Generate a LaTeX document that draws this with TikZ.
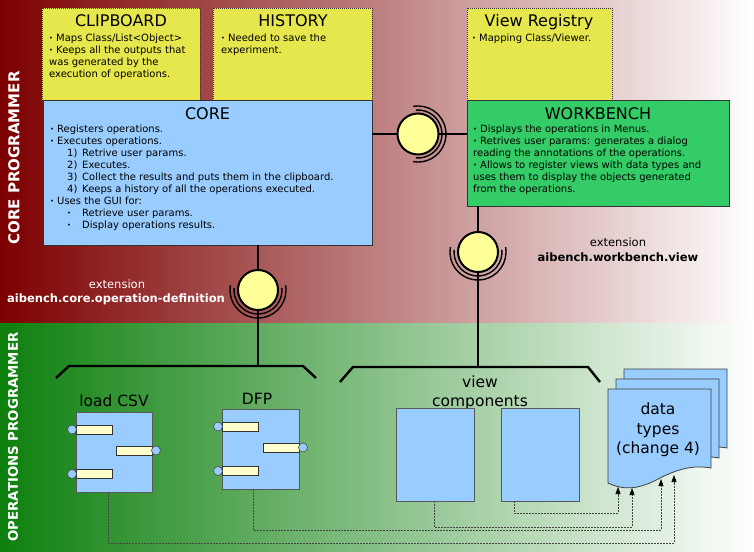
\documentclass[tikz,border=0pt]{standalone}
\usepackage{fontspec}
\setmainfont{DejaVu Sans}
\usetikzlibrary{arrows.meta,calc}
\definecolor{topred}{HTML}{7C0000}
\definecolor{botgreen}{HTML}{0E800E}
\definecolor{ybox}{HTML}{E6E64D}
\definecolor{lblue}{HTML}{99CCFF}
\definecolor{wgreen}{HTML}{33CC66}
\definecolor{sockfill}{HTML}{FFFF99}
\definecolor{portfill}{HTML}{FFFFCC}
\definecolor{dashgray}{HTML}{444444}
\newcommand\mybul{\makebox[7pt][l]{\raisebox{0.9pt}{\fontsize{6.5}{6.5}\selectfont •}}}
\newcommand\mysubbul{\raisebox{0.9pt}{\fontsize{6.5}{6.5}\selectfont •}}
\newcommand\opports[1]{%
  \draw[portr] ([shift={(0,13)}]#1.north west) rectangle ++(36,9);
  \draw[portc] ([shift={(-4,17.5)}]#1.north west) circle[radius=4.5];
  \draw[portr] ([shift={(-36,34)}]#1.north east) rectangle ++(36,9);
  \draw[portc] ([shift={(4,38.5)}]#1.north east) circle[radius=4.5];
  \draw[portr] ([shift={(0,57.5)}]#1.north west) rectangle ++(36,9);
  \draw[portc] ([shift={(-4,62)}]#1.north west) circle[radius=4.5];}
\newcommand\docpath{(608,389) -- (711,389) -- (711,468) .. controls (695,465) and (680,468) .. (660,478) .. controls (640,489) and (625,491) .. (608,483) -- cycle}
\begin{document}
\begin{tikzpicture}[x=1pt,y=-1pt,
  ybox/.style={fill=ybox,draw=black!80,line width=0.7pt,dash pattern=on 1pt off 1pt,anchor=north west,outer sep=0pt,inner sep=0pt},
  corebox/.style={fill=lblue,draw=black!80,line width=0.8pt,anchor=north west,outer sep=0pt,inner sep=0pt},
  wbbox/.style={fill=wgreen,draw=black!80,line width=0.8pt,anchor=north west,outer sep=0pt,inner sep=0pt},
  compbox/.style={fill=lblue,draw=black!65,line width=0.8pt,anchor=north west,outer sep=0pt,inner sep=0pt},
  boxtitle/.style={anchor=base,inner sep=0pt,font=\fontsize{16}{19}\selectfont},
  boxbody/.style={anchor=north west,align=left,inner sep=0pt,font=\fontsize{10}{12.05}\selectfont},
  comptxt/.style={inner sep=0pt,font=\fontsize{15.5}{19.5}\selectfont},
  conn/.style={line width=2.4pt,black},
  sock/.style={circle,fill=sockfill,draw=black,line width=2pt,minimum size=40pt,inner sep=0pt,outer sep=0pt},
  sockarc/.style={line width=1.4pt,black},
  portr/.style={fill=portfill,draw=black!80,line width=0.6pt},
  portc/.style={fill=lblue,draw=black!70,line width=0.6pt},
  docsty/.style={fill=lblue,draw=black!75,line width=0.8pt},
  dasharr/.style={draw=dashgray,line width=0.6pt,dash pattern=on 2pt off 1pt,-{Triangle[length=7pt,width=5pt,black]}},
  sidelbl/.style={text=white,inner sep=0pt,rotate=90}
]
\useasboundingbox (0,0) rectangle (754,551);
% background bands
\shade[left color=topred,right color=white] (0,0) rectangle (754,323);
\shade[left color=botgreen,right color=white] (0,323) rectangle (754,551);
% side labels
\node[sidelbl,font=\bfseries\fontsize{15}{15}\selectfont] (lblcore) at (14,158) {CORE PROGRAMMER};
\node[sidelbl,font=\bfseries\fontsize{13.3}{13.3}\selectfont] (lblops) at (13,437) {OPERATIONS PROGRAMMER};
% top boxes
\node[ybox,minimum width=158pt,minimum height=92pt] (clip) at (42,8) {};
\node[ybox,minimum width=159pt,minimum height=92pt] (hist) at (213,8) {};
\node[ybox,minimum width=145pt,minimum height=92pt] (vreg) at (467,8) {};
\node[corebox,minimum width=329pt,minimum height=145pt] (core) at (43,100) {};
\node[wbbox,minimum width=262pt,minimum height=106pt] (wb) at (467,100) {};
% titles
\node[boxtitle] (clipT) at (121,27) {CLIPBOARD};
\node[boxtitle] (histT) at (293,27) {HISTORY};
\node[boxtitle] (vregT) at (539,27) {View Registry};
\node[boxtitle] (coreT) at (207.5,119) {CORE};
\node[boxtitle] (wbT) at (598,119) {WORKBENCH};
% bodies
\node[boxbody] (clipB) at (49,33.5) {\mybul Maps Class/List<Object>\\\mybul Keeps all the outputs that\\was generated by the\\execution of operations.};
\node[boxbody] (histB) at (221,33.5) {\mybul Needed to save the\\experiment.};
\node[boxbody] (vregB) at (472,33.5) {\mybul Mapping Class/Viewer.};
\node[boxbody] (coreB) at (50,124.5) {\mybul Registers operations.\\
\mybul Executes operations.\\
\hspace*{17pt}\makebox[15pt][l]{1)}Retrive user params.\\
\hspace*{17pt}\makebox[15pt][l]{2)}Executes.\\
\hspace*{17pt}\makebox[15pt][l]{3)}Collect the results and puts them in the clipboard.\\
\hspace*{17pt}\makebox[15pt][l]{4)}Keeps a history of all the operations executed.\\
\mybul Uses the GUI for:\\
\hspace*{17pt}\makebox[15pt][l]{\mysubbul}Retrieve user params.\\
\hspace*{17pt}\makebox[15pt][l]{\mysubbul}Display operations results.};
\node[boxbody] (wbB) at (473,124.5) {\mybul Displays the operations in Menus.\\
\mybul Retrives user params: generates a dialog\\
reading the annotations of the operations.\\
\mybul Allows to register views with data types and\\
uses them to display the objects generated\\
from the operations.};
% sockets
\node[sock,minimum size=41pt] (sock1) at (418,134) {};
\node[sock] (sock2) at (258,290) {};
\node[sock] (sock3) at (478,252) {};
\coordinate (b1) at (258,366);
\coordinate (b2) at (478,367);
\draw[conn] (sock1 -| core.east) -- (sock1.west);
\draw[conn] (sock1.east) -- (sock1 -| wb.west);
\draw[conn] (core.south -| sock2) -- (sock2.north);
\draw[conn] (sock2.south) -- (b1);
\draw[conn] (wb.south -| sock3) -- (sock3.north);
\draw[conn] (sock3.south) -- (b2);
\draw[sockarc] (sock1.center) ++(-95:24) arc[start angle=-95,end angle=95,radius=24];
\draw[sockarc] (sock1.center) ++(-100:28) arc[start angle=-100,end angle=100,radius=28];
\draw[sockarc] (sock2.center) ++(-5:24) arc[start angle=-5,end angle=185,radius=24];
\draw[sockarc] (sock2.center) ++(-10:28) arc[start angle=-10,end angle=190,radius=28];
\draw[sockarc] (sock3.center) ++(-5:24) arc[start angle=-5,end angle=185,radius=24];
\draw[sockarc] (sock3.center) ++(-10:28) arc[start angle=-10,end angle=190,radius=28];
% braces
\draw[conn] (56,378) -- (69,366) -- (b1) -- (303,366) -- (316,378);
\draw[conn] (340,382) -- (353,367) -- (b2) -- (588,367) -- (600,382);
% extension labels
\node[anchor=base,inner sep=0pt,text=white,font=\fontsize{11.5}{13}\selectfont] (ext1a) at (117,288) {extension};
\node[anchor=base,inner sep=0pt,text=white,font=\bfseries\fontsize{11.5}{13}\selectfont] (ext1b) at (116,302) {aibench.core.operation-definition};
\node[anchor=base,inner sep=0pt,font=\fontsize{11.5}{13}\selectfont] (ext2a) at (618,246) {extension};
\node[anchor=base,inner sep=0pt,font=\bfseries\fontsize{11.5}{13}\selectfont] (ext2b) at (618,261) {aibench.workbench.view};
% operation components
\node[comptxt,anchor=base] (csvT) at (114,406) {load CSV};
\node[comptxt,anchor=base] (dfpT) at (257,404) {DFP};
\node[compbox,minimum width=76pt,minimum height=80pt] (csv) at (76,412) {};
\node[compbox,minimum width=77pt,minimum height=80pt] (dfp) at (222,409) {};
\opports{csv}
\opports{dfp}
% view components
\node[comptxt,anchor=north,align=center] (vcT) at (480,375.5) {view\\components};
\node[compbox,minimum width=78pt,minimum height=93pt] (vc1) at (396,408) {};
\node[compbox,minimum width=78pt,minimum height=93pt] (vc2) at (501,408) {};
% data types
\begin{scope}[shift={(16,-20)}]\path[docsty] \docpath;\end{scope}
\begin{scope}[shift={(8,-10)}]\path[docsty] \docpath;\end{scope}
\path[docsty] \docpath;
\node[comptxt,anchor=north,align=center] (dt) at (658,403) {data\\types\\(change 4)};
\coordinate (t1) at (618,487);
\coordinate (t2) at (632,488);
\coordinate (t3) at (661,479);
\coordinate (t4) at (674,475);
\draw[dasharr] ([xshift=13pt]vc2.south west) -- ++(0,12) -| (t1);
\draw[dasharr] ([xshift=38pt]vc1.south west) -- ++(0,26) -| (t2);
\draw[dasharr] ([xshift=31pt]dfp.south west) -- ++(0,41) -| (t3);
\draw[dasharr] ([xshift=32pt]csv.south west) -- ++(0,51) -| (t4);
\end{tikzpicture}
\end{document}
